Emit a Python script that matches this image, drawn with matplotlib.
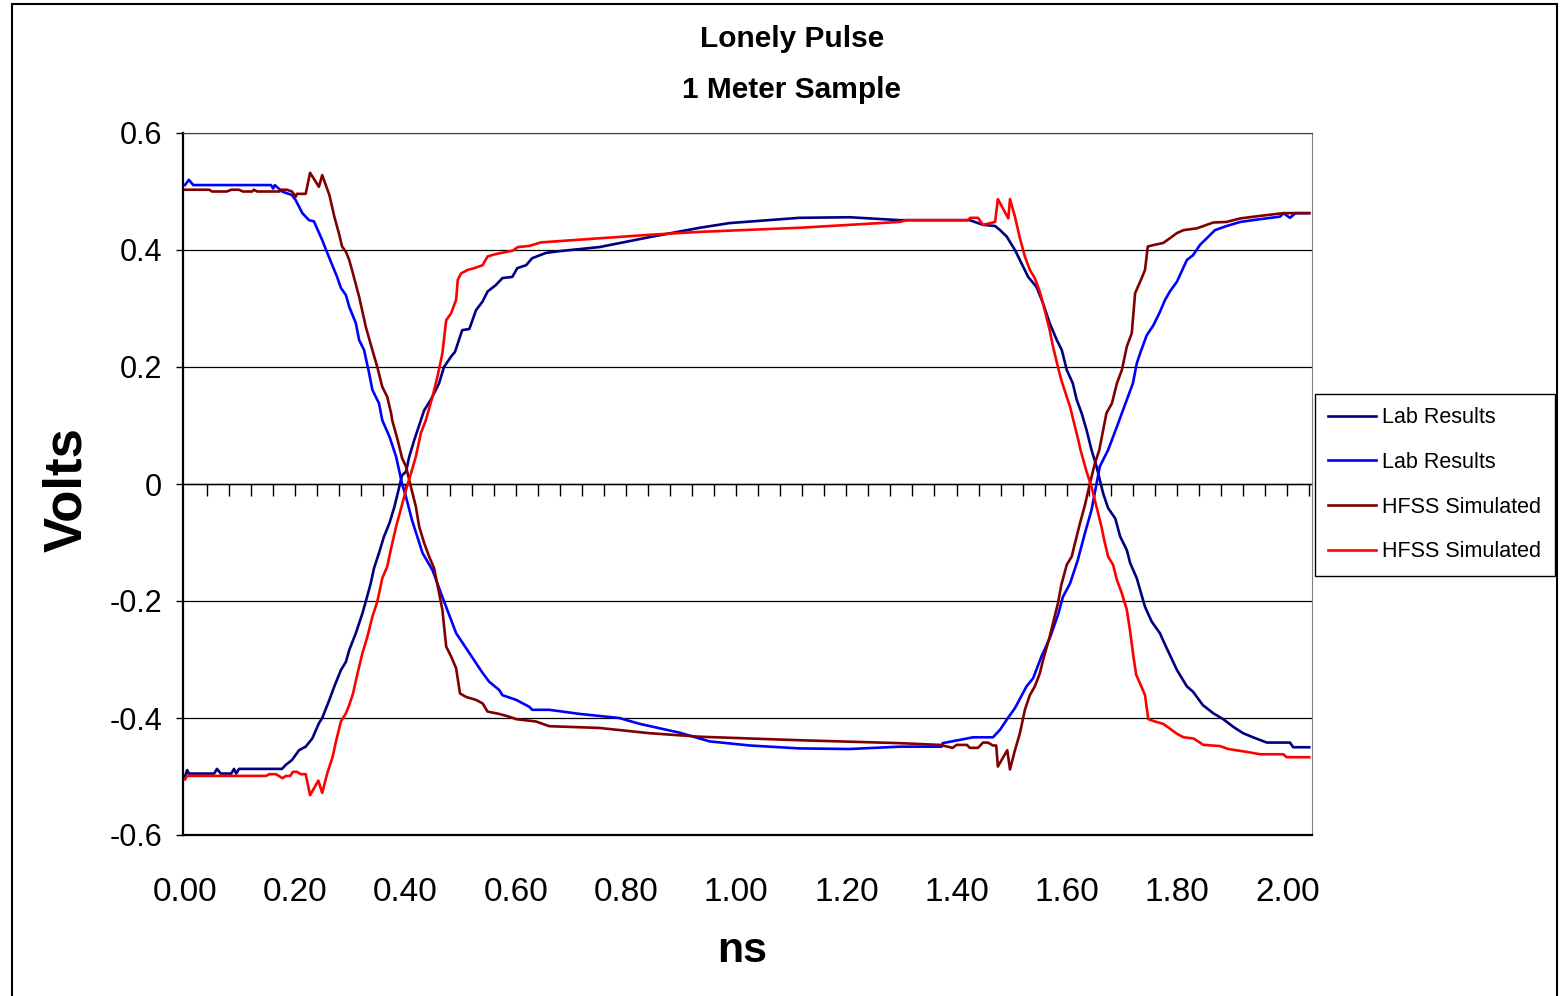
import matplotlib
matplotlib.use('Agg')
import matplotlib.pyplot as plt
from matplotlib import font_manager
from matplotlib.patches import Rectangle

# values (time in ns, voltage in V)
lab1_t = [0.000, 0.004, 0.007, 0.053, 0.058, 0.065, 0.084, 0.089, 0.093, 0.098, 0.176, 0.183,
          0.194, 0.207, 0.219, 0.231, 0.243, 0.249, 0.262, 0.271, 0.283, 0.292, 0.298, 0.310,
          0.322, 0.328, 0.337, 0.343, 0.352, 0.361, 0.371, 0.380, 0.386, 0.394, 0.401, 0.407,
          0.416, 0.428, 0.434, 0.446, 0.461, 0.470, 0.483, 0.490, 0.503, 0.516, 0.528, 0.540,
          0.549, 0.564, 0.576, 0.594, 0.603, 0.619, 0.630, 0.655, 0.679, 0.752, 0.843, 0.934,
          0.988, 1.115, 1.206, 1.297, 1.424, 1.448, 1.470, 1.479, 1.491, 1.506, 1.518, 1.530,
          1.545, 1.557, 1.569, 1.582, 1.591, 1.600, 1.611, 1.618, 1.627, 1.636, 1.645, 1.654,
          1.666, 1.675, 1.688, 1.697, 1.709, 1.715, 1.727, 1.742, 1.754, 1.769, 1.781, 1.800,
          1.818, 1.829, 1.847, 1.866, 1.884, 1.902, 1.920, 1.938, 1.963, 2.005, 2.011, 2.040]
lab1_v = [-0.500, -0.489, -0.495, -0.495, -0.487, -0.495, -0.495, -0.487, -0.495, -0.487, -0.487, -0.480,
          -0.472, -0.455, -0.449, -0.435, -0.409, -0.400, -0.369, -0.346, -0.318, -0.304, -0.284, -0.255,
          -0.221, -0.201, -0.170, -0.144, -0.118, -0.090, -0.067, -0.039, -0.016, 0.015, 0.021, 0.047,
          0.075, 0.109, 0.126, 0.144, 0.172, 0.200, 0.218, 0.226, 0.263, 0.265, 0.297, 0.312,
          0.329, 0.340, 0.352, 0.354, 0.369, 0.374, 0.386, 0.395, 0.398, 0.405, 0.422, 0.438,
          0.446, 0.455, 0.456, 0.451, 0.451, 0.443, 0.441, 0.434, 0.423, 0.400, 0.377, 0.354,
          0.337, 0.309, 0.275, 0.246, 0.229, 0.195, 0.172, 0.144, 0.121, 0.092, 0.058, 0.030,
          -0.016, -0.041, -0.059, -0.090, -0.113, -0.135, -0.161, -0.210, -0.235, -0.255, -0.280, -0.318,
          -0.346, -0.355, -0.378, -0.392, -0.402, -0.415, -0.426, -0.433, -0.442, -0.442, -0.450, -0.450]

lab2_t = [0.000, 0.007, 0.015, 0.156, 0.160, 0.163, 0.176, 0.194, 0.201, 0.213, 0.225, 0.234,
          0.249, 0.256, 0.276, 0.283, 0.292, 0.298, 0.310, 0.316, 0.325, 0.334, 0.340, 0.352,
          0.358, 0.371, 0.383, 0.394, 0.401, 0.412, 0.431, 0.449, 0.467, 0.492, 0.516, 0.540,
          0.552, 0.570, 0.576, 0.601, 0.625, 0.630, 0.661, 0.716, 0.788, 0.825, 0.897, 0.952,
          1.025, 1.115, 1.206, 1.297, 1.373, 1.375, 1.430, 1.466, 1.479, 1.491, 1.506, 1.527,
          1.539, 1.554, 1.569, 1.584, 1.593, 1.606, 1.620, 1.633, 1.645, 1.654, 1.660, 1.675,
          1.691, 1.709, 1.720, 1.727, 1.733, 1.745, 1.757, 1.769, 1.778, 1.787, 1.800, 1.818,
          1.829, 1.842, 1.854, 1.869, 1.890, 1.915, 1.945, 1.987, 1.993, 2.005, 2.015, 2.040]
lab2_v = [0.511, 0.520, 0.511, 0.511, 0.505, 0.511, 0.500, 0.494, 0.485, 0.463, 0.451, 0.449,
          0.417, 0.400, 0.354, 0.335, 0.323, 0.303, 0.275, 0.246, 0.229, 0.190, 0.161, 0.138,
          0.109, 0.081, 0.047, 0.000, -0.022, -0.062, -0.118, -0.147, -0.193, -0.255, -0.289, -0.323,
          -0.338, -0.352, -0.361, -0.369, -0.381, -0.386, -0.386, -0.393, -0.400, -0.410, -0.425, -0.440,
          -0.447, -0.452, -0.453, -0.449, -0.449, -0.443, -0.433, -0.433, -0.420, -0.403, -0.383, -0.346,
          -0.332, -0.295, -0.264, -0.224, -0.193, -0.170, -0.130, -0.084, -0.044, 0.000, 0.030, 0.058,
          0.098, 0.144, 0.172, 0.206, 0.223, 0.254, 0.271, 0.294, 0.314, 0.329, 0.346, 0.383,
          0.391, 0.409, 0.420, 0.434, 0.441, 0.448, 0.452, 0.457, 0.463, 0.455, 0.463, 0.463]

hfss1_t = [0.000, 0.044, 0.049, 0.076, 0.084, 0.098, 0.105, 0.122, 0.125, 0.131, 0.171, 0.174,
           0.185, 0.194, 0.201, 0.203, 0.219, 0.227, 0.243, 0.249, 0.262, 0.271, 0.280, 0.285,
           0.292, 0.298, 0.303, 0.316, 0.328, 0.340, 0.349, 0.358, 0.367, 0.374, 0.376, 0.386,
           0.394, 0.401, 0.410, 0.419, 0.425, 0.434, 0.443, 0.452, 0.461, 0.467, 0.474, 0.483,
           0.492, 0.499, 0.510, 0.528, 0.540, 0.549, 0.570, 0.589, 0.601, 0.637, 0.661, 0.752,
           0.843, 0.934, 1.115, 1.297, 1.370, 1.393, 1.400, 1.419, 1.424, 1.439, 1.448, 1.457,
           1.466, 1.472, 1.475, 1.492, 1.497, 1.506, 1.515, 1.524, 1.533, 1.542, 1.551, 1.557,
           1.569, 1.575, 1.584, 1.590, 1.600, 1.609, 1.615, 1.624, 1.633, 1.642, 1.651, 1.659,
           1.672, 1.682, 1.691, 1.700, 1.709, 1.718, 1.724, 1.736, 1.742, 1.747, 1.760, 1.775,
           1.787, 1.800, 1.812, 1.836, 1.848, 1.866, 1.890, 1.915, 1.948, 1.993, 2.040]
hfss1_v = [0.503, 0.503, 0.500, 0.500, 0.503, 0.503, 0.500, 0.500, 0.503, 0.500, 0.500, 0.503,
           0.503, 0.500, 0.491, 0.496, 0.496, 0.532, 0.508, 0.528, 0.494, 0.457, 0.426, 0.406,
           0.397, 0.383, 0.366, 0.320, 0.269, 0.229, 0.200, 0.166, 0.149, 0.121, 0.109, 0.075,
           0.044, 0.030, -0.005, -0.039, -0.073, -0.101, -0.124, -0.144, -0.186, -0.215, -0.278, -0.295,
           -0.315, -0.358, -0.364, -0.369, -0.375, -0.389, -0.393, -0.398, -0.402, -0.406, -0.414, -0.417,
           -0.426, -0.432, -0.438, -0.443, -0.446, -0.451, -0.446, -0.446, -0.451, -0.451, -0.442, -0.442,
           -0.447, -0.447, -0.483, -0.455, -0.488, -0.455, -0.426, -0.386, -0.361, -0.346, -0.324, -0.301,
           -0.261, -0.238, -0.204, -0.173, -0.138, -0.124, -0.101, -0.067, -0.036, 0.001, 0.035, 0.058,
           0.121, 0.138, 0.172, 0.195, 0.235, 0.258, 0.326, 0.352, 0.366, 0.406, 0.409, 0.412,
           0.420, 0.429, 0.434, 0.437, 0.441, 0.447, 0.448, 0.454, 0.458, 0.463, 0.463]

hfss2_t = [0.000, 0.004, 0.147, 0.153, 0.165, 0.177, 0.183, 0.191, 0.196, 0.203, 0.210, 0.219,
           0.227, 0.242, 0.249, 0.258, 0.268, 0.274, 0.283, 0.292, 0.298, 0.305, 0.313, 0.322,
           0.331, 0.340, 0.349, 0.358, 0.367, 0.374, 0.383, 0.392, 0.401, 0.410, 0.419, 0.428,
           0.437, 0.449, 0.458, 0.467, 0.474, 0.483, 0.492, 0.495, 0.501, 0.513, 0.525, 0.540,
           0.549, 0.564, 0.595, 0.604, 0.625, 0.646, 0.661, 0.752, 0.843, 0.934, 1.115, 1.297,
           1.309, 1.420, 1.425, 1.439, 1.448, 1.470, 1.475, 1.494, 1.497, 1.506, 1.515, 1.524,
           1.533, 1.542, 1.551, 1.560, 1.569, 1.575, 1.584, 1.590, 1.600, 1.606, 1.612, 1.621,
           1.625, 1.636, 1.645, 1.654, 1.663, 1.668, 1.675, 1.684, 1.691, 1.700, 1.709, 1.715,
           1.721, 1.726, 1.733, 1.742, 1.748, 1.760, 1.775, 1.787, 1.800, 1.812, 1.830, 1.848,
           1.878, 1.893, 1.927, 1.951, 1.993, 1.999, 2.040]
hfss2_v = [-0.505, -0.499, -0.499, -0.496, -0.496, -0.503, -0.499, -0.499, -0.492, -0.492, -0.496, -0.496,
           -0.532, -0.507, -0.528, -0.495, -0.466, -0.440, -0.406, -0.392, -0.378, -0.358, -0.324, -0.289,
           -0.261, -0.227, -0.201, -0.161, -0.141, -0.110, -0.073, -0.042, -0.010, 0.018, 0.047, 0.087,
           0.109, 0.149, 0.183, 0.223, 0.280, 0.292, 0.315, 0.349, 0.360, 0.366, 0.369, 0.374,
           0.389, 0.393, 0.399, 0.405, 0.407, 0.413, 0.414, 0.420, 0.426, 0.431, 0.438, 0.448,
           0.451, 0.451, 0.455, 0.455, 0.443, 0.448, 0.487, 0.454, 0.487, 0.457, 0.420, 0.389,
           0.366, 0.352, 0.329, 0.297, 0.263, 0.235, 0.200, 0.178, 0.149, 0.132, 0.109, 0.075,
           0.058, 0.021, -0.005, -0.039, -0.073, -0.096, -0.124, -0.138, -0.164, -0.187, -0.215, -0.252,
           -0.295, -0.326, -0.341, -0.361, -0.402, -0.406, -0.410, -0.418, -0.427, -0.433, -0.435, -0.446,
           -0.448, -0.453, -0.458, -0.462, -0.462, -0.467, -0.467]

series_labels = ['Lab Results', 'Lab Results', 'HFSS Simulated', 'HFSS Simulated']
series_colors = ['#000080', '#0000FF', '#800000', '#FF0000']

x_ticks = [0.0, 0.2, 0.4, 0.6, 0.8, 1.0, 1.2, 1.4, 1.6, 1.8, 2.0]
y_ticks = [0.6, 0.4, 0.2, 0.0, -0.2, -0.4, -0.6]
y_tick_labels = ['0.6', '0.4', '0.2', '0', '-0.2', '-0.4', '-0.6']
zero_ticks = [0.04 * i for i in range(1, 52)]

names = {f.name for f in font_manager.fontManager.ttflist}
base = 'Liberation Sans' if 'Liberation Sans' in names else 'DejaVu Sans'
plt.rcParams['font.family'] = base

W, H = 1560, 996
fig = plt.figure(figsize=(W / 100, H / 100), dpi=100)
fig.patch.set_facecolor('white')

# outer chart border
fig.patches.append(Rectangle((12 / W, -0.01), (1557 - 12) / W, 1 - 4 / H + 0.01,
                             transform=fig.transFigure, fill=False,
                             edgecolor='black', linewidth=1.5))

ax = fig.add_axes([183 / W, 1 - 835 / H, (1312 - 183) / W, (835 - 133) / H])

all_t = [lab1_t, lab2_t, hfss1_t, hfss2_t]
all_v = [lab1_v, lab2_v, hfss1_v, hfss2_v]
for t, v, lab, col in zip(all_t, all_v, series_labels, series_colors):
    ax.plot(t, v, color=col, linewidth=1.9, label=lab)

ax.set_xlim(-0.0036, 2.045)
ax.set_ylim(-0.6, 0.6)

ax.set_yticks(y_ticks)
ax.set_yticklabels(y_tick_labels)
ax.set_xticks(x_ticks)
ax.set_xticklabels(['%.2f' % x for x in x_ticks])
ax.tick_params(axis='y', direction='out', length=5, width=1, pad=10, labelsize=22)
ax.tick_params(axis='x', length=0, pad=30, labelsize=24)

ax.yaxis.grid(True, color='black', linewidth=0.9)
ax.set_axisbelow(True)

ax.spines['left'].set_linewidth(1.6)
ax.spines['bottom'].set_linewidth(1.6)
ax.spines['top'].set_color('#404040')
ax.spines['right'].set_color('#808080')

# tick marks along the zero line
zax = ax.secondary_xaxis(0.5)
zax.set_xticks(zero_ticks)
zax.tick_params(direction='in', length=8.5, width=1, labeltop=False, labelbottom=False)
zax.spines['top'].set_linewidth(1.0)

fig.text(792 / W, 1 - 47 / H, 'Lonely Pulse', ha='center', va='baseline',
         fontsize=21.5, fontweight='bold')
fig.text(792 / W, 1 - 98 / H, '1 Meter Sample', ha='center', va='baseline',
         fontsize=21.5, fontweight='bold')
fig.text(67 / W, 1 - 490 / H, 'Volts', rotation=90, ha='center', va='center',
         fontsize=38, fontweight='bold')
fig.text(742 / W, 1 - 962 / H, 'ns', ha='center', va='baseline',
         fontsize=31, fontweight='bold')

leg = ax.legend(loc='upper left', bbox_to_anchor=(1315 / W, 1 - 394 / H),
                bbox_transform=fig.transFigure, borderaxespad=0, fontsize=15.5,
                frameon=True, fancybox=False, shadow=False, framealpha=1,
                edgecolor='black', borderpad=0.62, handlelength=2.2,
                handletextpad=0.3, labelspacing=1.1)
leg.get_frame().set_linewidth(1.0)

fig.savefig('out.png', dpi=100, facecolor='white')
